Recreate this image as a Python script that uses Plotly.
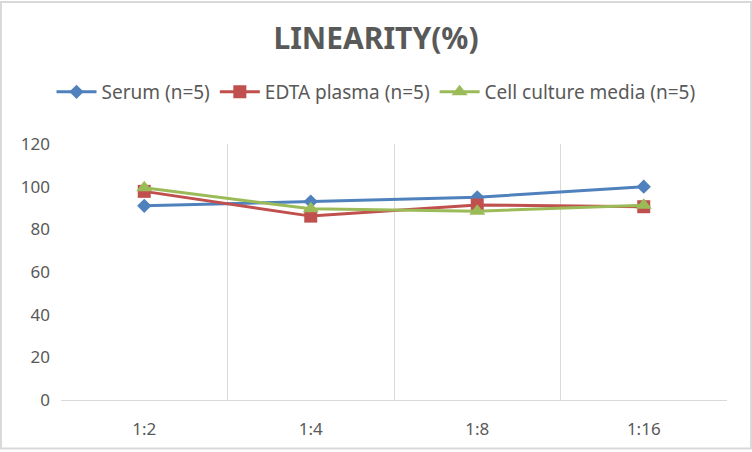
import plotly.graph_objects as go

# dilution ratios on the x axis
dilutions = ["1:2", "1:4", "1:8", "1:16"]

# linearity values (%) per sample type
serum = [91, 93, 95, 100]
edta_plasma = [97.8, 86.2, 91.4, 90.6]
cell_culture = [99.5, 89.6, 88.5, 91.3]

series_names = ["Serum (n=5)", "EDTA plasma (n=5)", "Cell culture media (n=5)"]
series_colors = ["#4F81BD", "#C0504D", "#9BBB59"]
series_symbols = ["diamond", "square", "triangle-up"]
series_sizes = [11, 13, 14]

fig = go.Figure()
for name, vals, col, sym, sz in zip(series_names, [serum, edta_plasma, cell_culture],
                                    series_colors, series_symbols, series_sizes):
    fig.add_trace(go.Scatter(
        x=dilutions, y=vals, name=name, mode="lines+markers",
        line=dict(color=col, width=3),
        marker=dict(symbol=sym, size=sz, color=col),
    ))

fig.update_layout(
    width=752, height=452,
    paper_bgcolor="white", plot_bgcolor="white",
    margin=dict(l=61, r=25, t=144, b=50),
    font=dict(family="Noto Sans, DejaVu Sans, sans-serif", color="#595959", size=16),
    title=dict(text="<b>LINEARITY(%)</b>", x=0.5, xanchor="center", y=1 - 38 / 452, yanchor="middle",
               font=dict(size=30, color="#595959")),
    legend=dict(orientation="h", xref="container", x=0.5, xanchor="center",
                yref="container", y=1 - 92 / 452, yanchor="middle",
                font=dict(size=19, color="#595959"), itemwidth=40, tracegroupgap=0,
                bgcolor="rgba(0,0,0,0)"),
    showlegend=True,
)
fig.update_xaxes(
    type="category", range=[-0.5, 3.5], tickson="boundaries", ticks="",
    showgrid=True, gridcolor="#D9D9D9", gridwidth=1,
    showline=True, linecolor="#D9D9D9", linewidth=1,
    tickfont=dict(size=17, color="#595959"), ticklabelstandoff=14,
)
fig.update_yaxes(
    range=[0, 120], dtick=20, showgrid=False, zeroline=False,
    showline=False, tickfont=dict(size=17, color="#595959"), ticklabelstandoff=10,
)
# light grey frame around the whole chart
fig.add_shape(type="rect", xref="paper", yref="paper",
              x0=(1 - 61) / 666, x1=(751 - 61) / 666, y0=(402 - 451) / 258, y1=(402 - 1) / 258,
              line=dict(color="#D9D9D9", width=2))

fig.write_html("out.html", config={"displayModeBar": False},
               post_script="document.body.style.margin='0';")
